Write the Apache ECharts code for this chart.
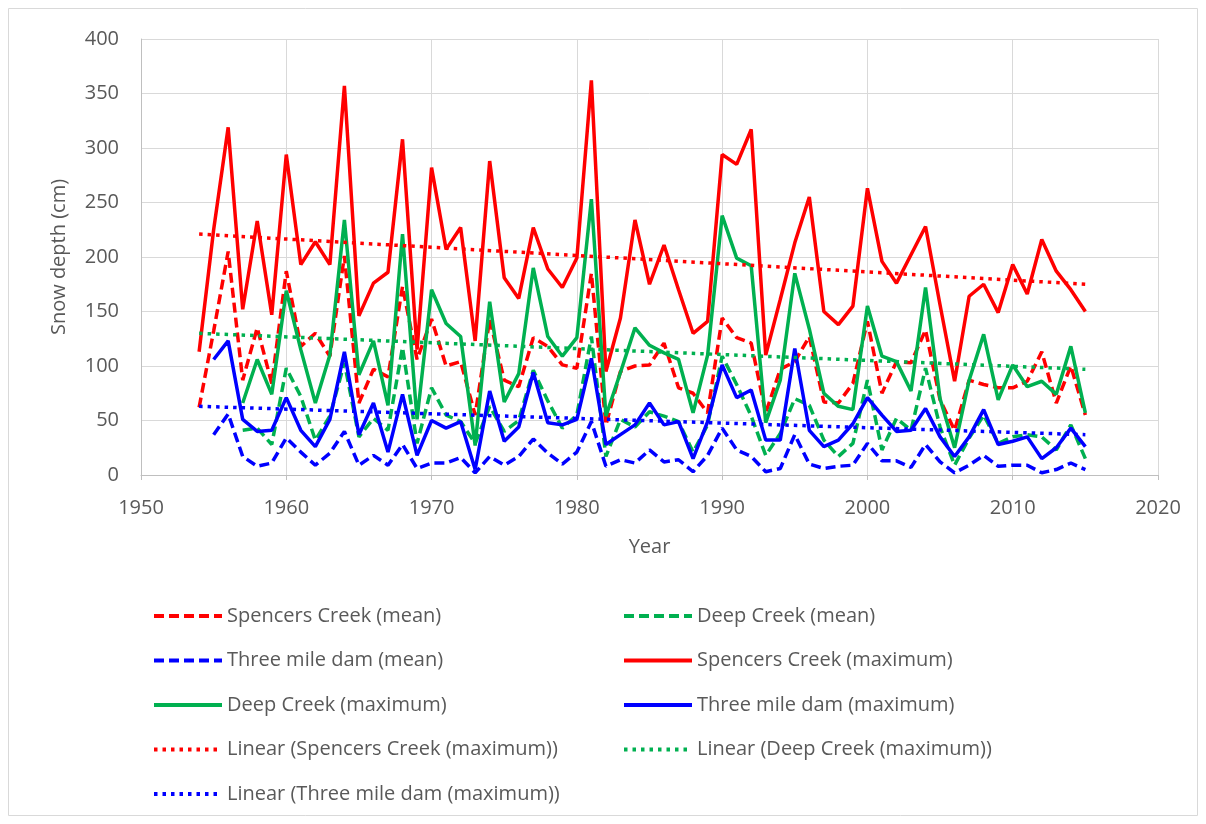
<!DOCTYPE html>
<html>
<head>
<meta charset="utf-8">
<script src="https://cdn.jsdelivr.net/npm/echarts@6/dist/echarts.min.js"></script>
<style>
  html, body { margin: 0; padding: 0; background: #fff; }
  #chart { width: 1206px; height: 824px; }
</style>
</head>
<body>
<div id="chart"></div>
<script>
// years 1954..2015, null = no record that year
var years = [];
for (var y = 1954; y <= 2015; y++) years.push(y);

var spencersMean = [62, 132, 205, 87, 135, 84, 187, 118, 130, 109, 201, 66, 97, 90, 173, 106, 143, 100, 104, 55,
  143, 87, 81, 126, 118, 101, 98, 185, 46, 95, 100, 101, 121, 80, 75, 57, 144, 126, 121, 57,
  97, 104, 127, 67, 66, 84, 141, 75, 104, 103, 133, 69, 41, 87, 83, 80, 80, 86, 113, 66, 100, 55];
var deepMean = [null, null, null, 41, 43, 28, 98, 72, 32, 54, 103, 35, 52, 41, 117, 29, 80, 55, 49, 29,
  63, 40, 50, 96, 68, 43, 55, 127, 17, 51, 44, 58, 54, 49, 21, 46, 109, 83, 54, 18,
  38, 70, 64, 32, 17, 29, 87, 23, 52, 41, 98, 44, 9, 34, 55, 29, 35, 37, 35, 23, 46, 15];
var threeMileMean = [null, 37, 56, 17, 8, 11, 34, 21, 9, 20, 40, 9, 18, 9, 28, 6, 11, 11, 16, 2,
  17, 9, 17, 33, 20, 10, 21, 49, 8, 14, 11, 23, 12, 14, 3, 18, 43, 23, 17, 3,
  6, 37, 10, 6, 8, 9, 29, 13, 13, 7, 28, 12, 2, 9, 18, 8, 9, 9, 2, 5, 11, 5];
var spencersMax = [113, 225, 319, 152, 233, 147, 294, 193, 214, 193, 357, 146, 176, 186, 308, 115, 282, 207, 227, 123,
  288, 181, 162, 227, 189, 172, 199, 362, 95, 144, 234, 175, 211, 170, 130, 141, 294, 285, 317, 110,
  161, 213, 255, 150, 138, 155, 263, 196, 176, 202, 228, 156, 86, 164, 175, 149, 193, 166, 216, 187, 170, 150];
var deepMax = [null, null, null, 66, 106, 74, 169, 115, 66, 110, 234, 92, 123, 64, 221, 51, 170, 139, 127, 27,
  159, 67, 93, 190, 127, 109, 126, 253, 54, 94, 135, 119, 112, 106, 57, 110, 238, 199, 192, 48,
  87, 185, 134, 75, 63, 60, 155, 109, 104, 77, 172, 70, 25, 87, 129, 69, 101, 81, 86, 74, 118, 57];
var threeMileMax = [null, 106, 123, 51, 40, 41, 71, 41, 26, 51, 113, 37, 66, 21, 74, 18, 50, 43, 49, 5,
  77, 31, 44, 94, 48, 46, 51, 107, 28, 37, 46, 66, 46, 49, 15, 49, 101, 71, 78, 32,
  32, 116, 41, 26, 32, 47, 71, 55, 40, 41, 61, 35, 17, 35, 60, 28, 31, 35, 15, 25, 43, 26];

// linear trend end points (first and last year)
var trendYears = [1954, 2015];
var spencersTrend = [221, 175];
var deepTrend = [130, 97];
var threeMileTrend = [63, 37];

var RED = '#ff0000', GREEN = '#00b050', BLUE = '#0000ff';
var TXT = '#595959';
var FONT = 'Open Sans';

function pairs(xs, vals) {
  var out = [];
  for (var i = 0; i < xs.length; i++) {
    if (vals[i] !== null) out.push([xs[i], vals[i]]);
  }
  return out;
}

function lineSeries(name, xs, vals, color, type) {
  return {
    name: name,
    type: 'line',
    data: pairs(xs, vals),
    symbol: 'none',
    showSymbol: false,
    lineStyle: { color: color, width: 3.5, type: type },
    itemStyle: { color: color }
  };
}

var DASH = [10, 5];
var DOT = [3.5, 5];

function legendCol(left, names) {
  return {
    orient: 'vertical',
    left: left,
    top: 604,
    padding: 0,
    itemWidth: 68,
    itemHeight: 16,
    itemGap: 20.5,
    itemStyle: { opacity: 0 },
    lineStyle: { width: 4 },
    textStyle: { color: TXT, fontSize: 20, fontFamily: FONT, lineHeight: 24 },
    data: names
  };
}

var chart = echarts.init(document.getElementById('chart'));
chart.setOption({
  animation: false,
  textStyle: { fontFamily: FONT },
  graphic: [{
    type: 'rect',
    shape: { x: 8.5, y: 8.5, width: 1189, height: 807 },
    style: { fill: 'none', stroke: '#d9d9d9', lineWidth: 1 },
    silent: true
  }],
  grid: { left: 141, right: 48, top: 39, bottom: 349 },
  legend: [
    legendCol(152, ['Spencers Creek (mean)', 'Three mile dam (mean)', 'Deep Creek (maximum)',
      'Linear (Spencers Creek (maximum))', 'Linear (Three mile dam (maximum))']),
    legendCol(622, ['Deep Creek (mean)', 'Spencers Creek (maximum)', 'Three mile dam (maximum)',
      'Linear (Deep Creek (maximum))'])
  ],
  xAxis: {
    type: 'value',
    min: 1950,
    max: 2020,
    interval: 10,
    name: 'Year',
    nameLocation: 'middle',
    nameGap: 62,
    nameTextStyle: { color: TXT, fontSize: 20, fontFamily: FONT },
    axisLine: { show: true, lineStyle: { color: '#bfbfbf', width: 1 } },
    axisTick: { show: true, length: 5, lineStyle: { color: '#bfbfbf' } },
    axisLabel: { color: TXT, fontSize: 20, fontFamily: FONT, margin: 23, formatter: function (v) { return String(v); } },
    splitLine: { show: true, lineStyle: { color: '#d9d9d9', width: 1 } }
  },
  yAxis: {
    type: 'value',
    min: 0,
    max: 400,
    interval: 50,
    name: 'Snow depth (cm)',
    nameLocation: 'middle',
    nameGap: 72,
    nameTextStyle: { color: TXT, fontSize: 20, fontFamily: FONT },
    axisLine: { show: true, lineStyle: { color: '#bfbfbf', width: 1 } },
    axisTick: { show: false },
    axisLabel: { color: TXT, fontSize: 20, fontFamily: FONT, margin: 22 },
    splitLine: { show: true, lineStyle: { color: '#d9d9d9', width: 1 } }
  },
  series: [
    lineSeries('Spencers Creek (mean)', years, spencersMean, RED, DASH),
    lineSeries('Deep Creek (mean)', years, deepMean, GREEN, DASH),
    lineSeries('Three mile dam (mean)', years, threeMileMean, BLUE, DASH),
    lineSeries('Spencers Creek (maximum)', years, spencersMax, RED, 'solid'),
    lineSeries('Deep Creek (maximum)', years, deepMax, GREEN, 'solid'),
    lineSeries('Three mile dam (maximum)', years, threeMileMax, BLUE, 'solid'),
    lineSeries('Linear (Spencers Creek (maximum))', trendYears, spencersTrend, RED, DOT),
    lineSeries('Linear (Deep Creek (maximum))', trendYears, deepTrend, GREEN, DOT),
    lineSeries('Linear (Three mile dam (maximum))', trendYears, threeMileTrend, BLUE, DOT)
  ]
});
</script>
</body>
</html>
